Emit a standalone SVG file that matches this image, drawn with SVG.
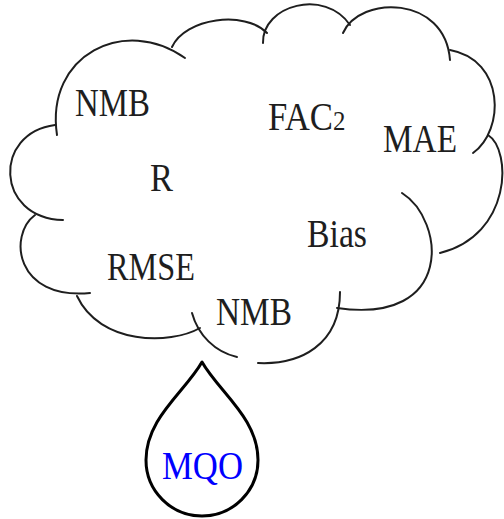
<svg xmlns="http://www.w3.org/2000/svg" width="504" height="519" viewBox="0 0 504 519">
<style>
.arc{fill:none;stroke:#1e1e1e;stroke-width:2;stroke-linecap:round}
.lbl{font-family:"Liberation Serif","DejaVu Serif",serif;font-size:39px;fill:#1e1e1e}
.mqo{fill:#0000ff}
.drop{fill:#ffffff;stroke:#000000;stroke-width:3;stroke-linejoin:round}
</style>
<rect width="504" height="519" fill="#ffffff"/>
<g id="cloud">
<path class="arc" d="M57,135 C45,55 125,15 185,58"/>
<path class="arc" d="M172,47 C185,18 245,10 267,33"/>
<path class="arc" d="M263,43 C262,5 325,-12 350,25"/>
<path class="arc" d="M343,33 C360,-5 445,-5 450,60"/>
<path class="arc" d="M450,50 C505,60 505,130 473,153"/>
<path class="arc" d="M488,135 C512,150 512,235 440,253"/>
<path class="arc" d="M402,193 C445,220 455,325 337,308"/>
<path class="arc" d="M340,292 C340,345 300,365 258,363"/>
<path class="arc" d="M237,357 C215,352 198,335 192,313"/>
<path class="arc" d="M200,328 C170,345 100,345 77,296"/>
<path class="arc" d="M35,215 C8,235 15,300 90,293"/>
<path class="arc" d="M55,125 C-7,133 -5,218 63,220"/>
</g>
<g id="drop">
<path class="drop" d="M202,362 C185,392 146,418 146,460 A56,56 0 0 0 258,460 C258,418 219,392 202,362 Z"/>
<text class="lbl mqo" x="162" y="479" textLength="81" lengthAdjust="spacingAndGlyphs">MQO</text>
</g>
<g id="label-nmb-top"><text class="lbl" x="75" y="116" textLength="75" lengthAdjust="spacingAndGlyphs">NMB</text></g>
<g id="label-fac2"><text class="lbl" transform="translate(268,130) scale(0.89,1)" x="0" y="0">FAC<tspan font-size="28">2</tspan></text></g>
<g id="label-mae"><text class="lbl" x="383" y="152" textLength="74" lengthAdjust="spacingAndGlyphs">MAE</text></g>
<g id="label-r"><text class="lbl" x="150" y="191" textLength="23" lengthAdjust="spacingAndGlyphs">R</text></g>
<g id="label-bias"><text class="lbl" x="307" y="247" textLength="60" lengthAdjust="spacingAndGlyphs">Bias</text></g>
<g id="label-rmse"><text class="lbl" x="107" y="280" textLength="88" lengthAdjust="spacingAndGlyphs">RMSE</text></g>
<g id="label-nmb-bottom"><text class="lbl" x="216" y="325" textLength="76" lengthAdjust="spacingAndGlyphs">NMB</text></g>
</svg>
